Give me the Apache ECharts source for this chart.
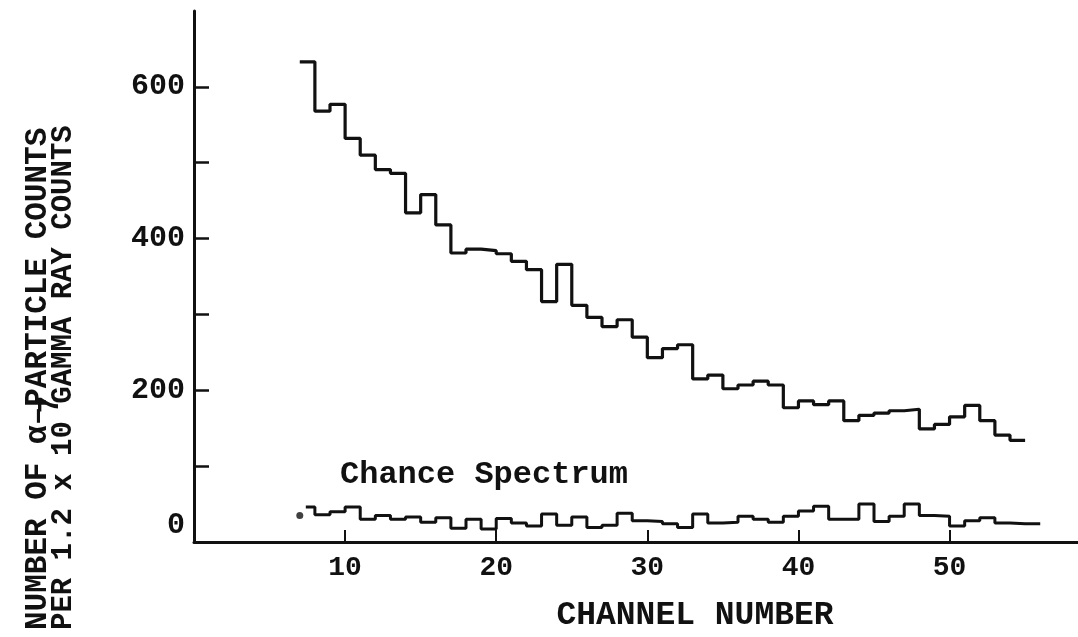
<!DOCTYPE html>
<html>
<head>
<meta charset="utf-8">
<script src="https://cdn.jsdelivr.net/npm/echarts@6/dist/echarts.min.js"></script>
<style>
  html, body { margin: 0; padding: 0; background: #ffffff; }
  #chart { width: 1078px; height: 637px; }
</style>
</head>
<body>
<div id="chart"></div>
<script>
// Typewriter-style face used for every text element
const FONT = '"Liberation Mono", "DejaVu Sans Mono", monospace';
const INK = '#111111';

// Axis ticks and labels
const xTickValues = [10, 20, 30, 40, 50];
const yTickValues = [100, 200, 300, 400, 500, 600];
const yLabelValues = [0, 200, 400, 600];

// Alpha-particle spectrum: counts per channel, one bin per channel starting at channel 7
const alphaFirstChannel = 7;
const alphaCounts = [
  633, 568, 577, 532, 510, 491, 486, 434, 458, 418,
  381, 386, 384, 380, 370, 359, 317, 366, 312, 296,
  284, 293, 270, 243, 255, 260, 215, 220, 202, 207,
  212, 207, 177, 186, 181, 186, 160, 167, 170, 173,
  175, 149, 155, 165, 180, 160, 141, 134
];

// Chance spectrum: first partial bin begins at 7.4, then one bin per channel from 8
const chanceFirstEdge = 7.4;
const chanceFirstCount = 46;
const chanceBinStart = 8;
const chanceCounts = [
  36, 40, 46, 30, 35, 30, 33, 26, 32, 18,
  30, 17, 31, 25, 21, 37, 22, 33, 19, 22,
  38, 28, 27, 24, 19, 37, 25, 26, 34, 30,
  26, 34, 41, 47, 30, 30, 50, 27, 34, 50,
  35, 34, 21, 28, 32, 25, 24, 24
];
const chanceDot = [7.0, 35];

// Step data: each point is a bin's left edge; the last point closes the final bin
function stepData(firstEdge, counts) {
  const pts = counts.map((v, i) => [firstEdge + i, v]);
  pts.push([firstEdge + counts.length, counts[counts.length - 1]]);
  return pts;
}
const alphaData = stepData(alphaFirstChannel, alphaCounts);
const chanceData = [[chanceFirstEdge, chanceFirstCount]].concat(stepData(chanceBinStart, chanceCounts));

const chart = echarts.init(document.getElementById('chart'), null, { renderer: 'canvas' });

const option = {
  backgroundColor: '#ffffff',
  animation: false,
  grid: { left: 194, right: 0, top: 11, bottom: 95, containLabel: false },
  xAxis: {
    type: 'value',
    min: 0,
    max: 58.5,
    interval: 10,
    axisLine: { show: true, lineStyle: { color: INK, width: 3 } },
    axisTick: { show: true, inside: true, length: 12, customValues: xTickValues,
      lineStyle: { color: INK, width: 2 } },
    axisLabel: { show: true, customValues: xTickValues, margin: 12,
      color: INK, fontFamily: FONT, fontSize: 28, fontWeight: 'bold' },
    splitLine: { show: false }
  },
  yAxis: {
    type: 'value',
    min: 0,
    max: 700,
    interval: 100,
    axisLine: { show: true, lineStyle: { color: INK, width: 3 } },
    axisTick: { show: true, inside: true, length: 15, customValues: yTickValues,
      lineStyle: { color: INK, width: 2.5 } },
    axisLabel: {
      show: true, customValues: yLabelValues, margin: 9,
      color: INK, fontFamily: FONT, fontSize: 30, fontWeight: 'bold',
      formatter: v => (v === 0 ? '{zero|0}' : String(v)),
      rich: {
        zero: { color: INK, fontFamily: FONT, fontSize: 30, fontWeight: 'bold', padding: [0, 0, 34, 0] }
      }
    },
    splitLine: { show: false }
  },
  series: [
    {
      name: 'alpha',
      type: 'line',
      step: 'end',
      data: alphaData,
      symbol: 'none',
      lineStyle: { color: INK, width: 3.2 },
      z: 3
    },
    {
      name: 'chance',
      type: 'line',
      step: 'end',
      data: chanceData,
      symbol: 'none',
      lineStyle: { color: INK, width: 3 },
      z: 3
    },
    {
      name: 'chance start',
      type: 'scatter',
      data: [chanceDot],
      symbol: 'circle',
      symbolSize: 7,
      itemStyle: { color: INK },
      z: 4
    }
  ]
};
chart.setOption(option);

// Annotation and axis titles
const chanceLabelAt = chart.convertToPixel({ gridIndex: 0 }, [9.66, 88]);
const line1Size = 31;
const line2Size = 29;
const line2Lead = 'PER 1.2 x 10';

chart.setOption({
  graphic: [
    {
      type: 'text',
      x: chanceLabelAt[0], y: chanceLabelAt[1],
      style: { text: 'Chance Spectrum', fill: INK, font: 'bold 32px ' + FONT,
        textAlign: 'left', textVerticalAlign: 'middle' }
    },
    {
      type: 'text',
      x: 695, y: 616,
      style: { text: 'CHANNEL NUMBER', fill: INK, font: 'bold 33px ' + FONT,
        textAlign: 'center', textVerticalAlign: 'middle' }
    },
    {
      type: 'text',
      x: 38, y: 630, rotation: Math.PI / 2,
      style: { text: 'NUMBER OF \u03b1\u2013PARTICLE COUNTS', fill: INK,
        font: 'bold ' + line1Size + 'px ' + FONT, textAlign: 'left', textVerticalAlign: 'middle' }
    },
    {
      type: 'text',
      x: 64, y: 630, rotation: Math.PI / 2,
      style: { text: line2Lead + ' GAMMA RAY COUNTS', fill: INK,
        font: 'bold ' + line2Size + 'px ' + FONT, textAlign: 'left', textVerticalAlign: 'middle' }
    },
    {
      type: 'text',
      x: 51, y: 622 - line2Lead.length * line2Size * 0.6, rotation: Math.PI / 2,
      style: { text: '7', fill: INK,
        font: 'bold ' + line2Size + 'px ' + FONT, textAlign: 'left', textVerticalAlign: 'middle' }
    }
  ]
});
</script>
</body>
</html>
